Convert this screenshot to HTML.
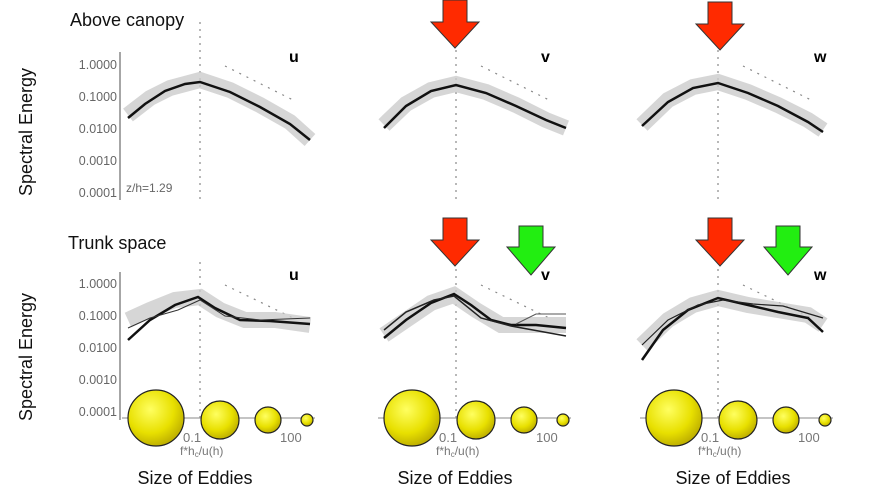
<!DOCTYPE html>
<html><head><style>
html,body{margin:0;padding:0;background:#fff;}
svg{display:block;}
text{font-family:"Liberation Sans",sans-serif;}
</style></head><body>
<svg width="869" height="502" viewBox="0 0 869 502" xmlns="http://www.w3.org/2000/svg">
<defs>
<radialGradient id="ball" cx="0.4" cy="0.35" r="0.7">
<stop offset="0" stop-color="#ffff60"/><stop offset="0.6" stop-color="#e8e000"/><stop offset="1" stop-color="#b8a800"/>
</radialGradient>
<g id="axTop">
<line x1="120" y1="52" x2="120" y2="200" stroke="#888" stroke-width="1.5"/>
<g font-size="12.5" fill="#666" text-anchor="end">
<text x="117" y="69">1.0000</text><text x="117" y="101">0.1000</text><text x="117" y="133">0.0100</text><text x="117" y="165">0.0010</text><text x="117" y="197">0.0001</text></g>
</g>
<g id="ylabBot">
<line x1="120" y1="272" x2="120" y2="420" stroke="#888" stroke-width="1.5"/>
<g font-size="12.5" fill="#666" text-anchor="end">
<text x="117" y="288">1.0000</text><text x="117" y="320">0.1000</text><text x="117" y="352">0.0100</text><text x="117" y="384">0.0010</text><text x="117" y="416">0.0001</text></g>
</g>
<g id="axBot">
<line x1="122" y1="418" x2="315" y2="418" stroke="#888" stroke-width="1"/>
<g font-size="13" fill="#777"><text x="183" y="442">0.1</text><text x="280" y="442">100</text><text x="180" y="455" font-size="12">f*h<tspan font-size="8" dy="2">c</tspan><tspan dy="-2">/u(h)</tspan></text></g>
<circle cx="156" cy="418" r="28" fill="url(#ball)" stroke="#222" stroke-width="1.2"/>
<circle cx="220" cy="420" r="19" fill="url(#ball)" stroke="#222" stroke-width="1.2"/>
<circle cx="268" cy="420" r="13" fill="url(#ball)" stroke="#222" stroke-width="1.2"/>
<circle cx="307" cy="420" r="6" fill="url(#ball)" stroke="#222" stroke-width="1.2"/>
</g>
<g id="dashTop"><line x1="200" y1="22" x2="200" y2="200" stroke="#888" stroke-width="1.2" stroke-dasharray="2,5"/>
<line x1="225" y1="66" x2="293" y2="100" stroke="#888" stroke-width="1.2" stroke-dasharray="2,6"/></g>
<g id="dashBot"><line x1="200" y1="262" x2="200" y2="420" stroke="#888" stroke-width="1.2" stroke-dasharray="2,5"/>
<line x1="225" y1="285" x2="293" y2="318" stroke="#888" stroke-width="1.2" stroke-dasharray="2,6"/></g>
<path id="red" d="M-12,0 H12 V22 H24 L0,48 L-24,22 H-12 Z" fill="#ff2a00" stroke="#333" stroke-width="1"/>
<path id="green" d="M-12,0 H12 V21 H24 L0,49 L-24,21 H-12 Z" fill="#22ee11" stroke="#333" stroke-width="1"/>
</defs>

<text x="70" y="26" font-size="18" fill="#111">Above canopy</text>
<text x="68" y="249" font-size="18" fill="#111">Trunk space</text>
<text transform="translate(32,132) rotate(-90)" font-size="18" text-anchor="middle" fill="#111">Spectral Energy</text>
<text transform="translate(32,357) rotate(-90)" font-size="18" text-anchor="middle" fill="#111">Spectral Energy</text>
<g font-size="18" text-anchor="middle" fill="#111"><text x="195" y="484">Size of Eddies</text><text x="455" y="484">Size of Eddies</text><text x="733" y="484">Size of Eddies</text></g>

<g>
<use href="#axTop"/><use href="#dashTop"/><use href="#ylabBot"/><use href="#axBot"/><use href="#dashBot"/>
<text x="126" y="192" font-size="12" fill="#666">z/h=1.29</text>
<text x="289" y="62" font-size="16" font-weight="bold">u</text>
<text x="289" y="280" font-size="16" font-weight="bold">u</text>
<path d="M128,115 L150,98 L170,88 L200,80 L230,90 L260,105 L290,122 L310,140" stroke="#ccc" stroke-width="16" fill="none" opacity="0.8"/>
<path d="M128,118 L145,104 L165,91 L185,84 L200,82 L230,92 L260,107 L290,124 L310,140" stroke="#111" stroke-width="2.5" fill="none"/>
<path d="M128,320 L150,310 L175,300 L200,297 L220,310 L245,320 L275,320 L310,325" stroke="#ccc" stroke-width="16" fill="none" opacity="0.8"/>
<path d="M128,340 L150,320 L175,305 L198,297 L215,308 L240,320 L270,321 L310,324" stroke="#111" stroke-width="2.5" fill="none"/>
<path d="M128,328 L150,318 L178,310 L200,300 L225,316 L260,320 L310,318" stroke="#333" stroke-width="1" fill="none"/>
</g>
<g transform="translate(256,0)">
<use href="#axBot"/><use href="#dashTop"/><use href="#dashBot"/>
<text x="285" y="62" font-size="16" font-weight="bold">v</text>
<text x="285" y="280" font-size="16" font-weight="bold">v</text>
<path d="M128,125 L150,104 L175,90 L200,84 L230,92 L260,105 L290,120 L310,128" stroke="#ccc" stroke-width="16" fill="none" opacity="0.8"/>
<path d="M128,128 L150,106 L175,91 L200,85 L230,93 L260,106 L290,120 L310,128" stroke="#111" stroke-width="2.5" fill="none"/>
<path d="M128,335 L150,320 L175,303 L198,295 L220,310 L245,325 L270,325 L310,325" stroke="#ccc" stroke-width="16" fill="none" opacity="0.8"/>
<path d="M128,338 L150,320 L175,303 L198,294 L215,305 L235,320 L255,325 L280,325 L310,328" stroke="#111" stroke-width="2.5" fill="none"/>
<path d="M128,330 L150,312 L178,300 L198,296 L225,318 L255,326 L310,336" stroke="#222" stroke-width="1.5" fill="none"/>
<path d="M260,324 L280,314 L310,314" stroke="#555" stroke-width="1" fill="none"/>
</g>
<g transform="translate(518,0)">
<use href="#axBot"/><use href="#dashTop"/><use href="#dashBot"/>
<text x="296" y="62" font-size="16" font-weight="bold">w</text>
<text x="296" y="280" font-size="16" font-weight="bold">w</text>
<path d="M124,125 L150,100 L175,87 L200,82 L230,92 L260,105 L290,120 L305,130" stroke="#ccc" stroke-width="16" fill="none" opacity="0.8"/>
<path d="M124,126 L150,102 L175,88 L200,83 L230,93 L260,106 L290,122 L305,132" stroke="#111" stroke-width="2.5" fill="none"/>
<path d="M124,345 L150,320 L175,305 L200,298 L230,305 L260,310 L290,315 L305,325" stroke="#ccc" stroke-width="16" fill="none" opacity="0.8"/>
<path d="M124,360 L145,330 L170,310 L200,298 L230,305 L260,312 L290,318 L305,332" stroke="#111" stroke-width="2.5" fill="none"/>
<path d="M124,345 L150,320 L180,305 L205,300 L235,304 L265,306 L305,318" stroke="#222" stroke-width="1.2" fill="none"/>
</g>

<use href="#red" x="455" y="0"/>
<use href="#red" x="720" y="2"/>
<use href="#red" x="455" y="218"/>
<use href="#red" x="720" y="218"/>
<use href="#green" x="531" y="226"/>
<use href="#green" x="788" y="226"/>
</svg>
</body></html>
